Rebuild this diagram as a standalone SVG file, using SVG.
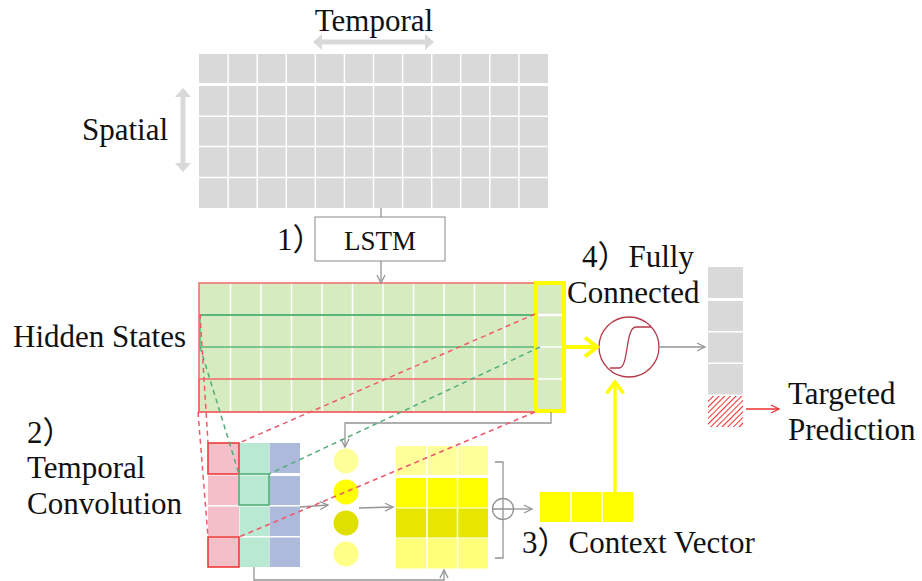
<svg xmlns="http://www.w3.org/2000/svg" width="922" height="581" viewBox="0 0 922 581">
<defs>
<style>
.t{font-family:"Liberation Serif","Noto Sans CJK SC",serif;font-size:31px;fill:#111}
.wl{stroke:#fff;stroke-width:1.5;fill:none}
.gl{stroke:#949494;stroke-width:1.3;fill:none}
.rd{stroke:#ef5a6a;stroke-width:1.5;stroke-dasharray:5 4;fill:none}
.gd{stroke:#4fae7a;stroke-width:1.5;stroke-dasharray:5 4;fill:none}
</style>
<marker id="ag" markerUnits="userSpaceOnUse" markerWidth="12" markerHeight="12" refX="9" refY="5" orient="auto"><path d="M1,1 L9,5 L1,9" fill="none" stroke="#949494" stroke-width="1.3"/></marker>
<marker id="ar" markerUnits="userSpaceOnUse" markerWidth="12" markerHeight="12" refX="9" refY="5" orient="auto"><path d="M1,1 L9,5 L1,9" fill="none" stroke="#f03030" stroke-width="1.3"/></marker>
<pattern id="hatch" patternUnits="userSpaceOnUse" width="4" height="4" patternTransform="rotate(45)"><rect width="4" height="4" fill="#fff"/><line x1="0" y1="0" x2="0" y2="4" stroke="#f03030" stroke-width="2"/></pattern>
</defs>

<g id="input-grid">
<rect x="199" y="54" width="349" height="154" fill="#d9d9d9"/>
<path class="wl" d="M228.1,54V208M257.2,54V208M286.3,54V208M315.3,54V208M344.4,54V208M373.5,54V208M402.6,54V208M431.7,54V208M460.7,54V208M489.8,54V208M518.9,54V208M199,116.2H548M199,146.6H548M199,177.5H548"/>
<line x1="199" y1="84.5" x2="548" y2="84.5" stroke="#fff" stroke-width="3"/>
</g>

<g id="temporal-label">
<text class="t" x="374" y="31" text-anchor="middle">Temporal</text>
<path d="M313,42 L322,34 L322,39.5 L425,39.5 L425,34 L434,42 L425,50 L425,44.5 L322,44.5 L322,50 Z" fill="#d9d9d9"/>
</g>

<g id="spatial-label">
<text class="t" x="82" y="140">Spatial</text>
<path d="M183,88 L191,97 L185.5,97 L185.5,163 L191,163 L183,172 L175,163 L180.5,163 L180.5,97 L175,97 Z" fill="#d9d9d9"/>
</g>

<g id="lstm">
<rect x="315" y="217" width="130" height="44" fill="#fff" stroke="#8a8a8a" stroke-width="1"/>
<text class="t" x="380" y="250" text-anchor="middle" style="font-size:27px">LSTM</text>
<text class="t" x="277" y="250">1）</text>
</g>

<g id="hidden-states">
<rect x="199" y="283" width="367" height="129" fill="#d7ebc1"/>
<path class="wl" d="M230.5,283V412M261,283V412M291.5,283V412M322,283V412M352.5,283V412M383,283V412M413.5,283V412M444,283V412M474.5,283V412M505,283V412M535,347H566M535,379H566"/>
<line x1="535" y1="315" x2="566" y2="315" stroke="#fff" stroke-width="2.5"/>
<rect x="199" y="283" width="336" height="129" fill="none" stroke="#f26a6a" stroke-width="1.5"/>
<rect x="199" y="379" width="336" height="33" fill="none" stroke="#f26a6a" stroke-width="1.5"/>
<path d="M200,315V347" stroke="#5cb67c" stroke-width="1.5" fill="none"/>
<line x1="200" y1="315" x2="535" y2="315" stroke="#5cb67c" stroke-width="2.2"/>
<line x1="200" y1="347" x2="535" y2="347" stroke="#5cb67c" stroke-width="1.3"/>
<rect x="536" y="283" width="28" height="128" fill="none" stroke="#ffff00" stroke-width="4"/>
<text class="t" x="13" y="347">Hidden States</text>
</g>

<g id="temporal-convolution">
<rect x="208" y="443" width="31" height="31" fill="#f5bfc9"/>
<rect x="208" y="475.5" width="31" height="29.5" fill="#f5bfc9"/>
<rect x="208" y="506.5" width="31" height="29.5" fill="#f5bfc9"/>
<rect x="208" y="537.5" width="31" height="29.5" fill="#f5bfc9"/>
<rect x="239.5" y="443" width="29.5" height="31" fill="#b9e8d3"/>
<rect x="239.5" y="475.5" width="29.5" height="29.5" fill="#b9e8d3"/>
<rect x="239.5" y="506.5" width="29.5" height="29.5" fill="#b9e8d3"/>
<rect x="239.5" y="537.5" width="29.5" height="29.5" fill="#b9e8d3"/>
<rect x="269.5" y="443" width="30.5" height="30" fill="#aebadc"/>
<rect x="269.5" y="476" width="30.5" height="29" fill="#aebadc"/>
<rect x="269.5" y="506.5" width="30.5" height="29.5" fill="#aebadc"/>
<rect x="269.5" y="537.5" width="30.5" height="29.5" fill="#aebadc"/>
<rect x="208" y="443" width="31" height="31" fill="none" stroke="#f03a3a" stroke-width="1.6"/>
<rect x="208" y="537" width="31" height="30" fill="none" stroke="#f03a3a" stroke-width="1.6"/>
<rect x="239" y="474" width="30" height="31" fill="none" stroke="#4fae7a" stroke-width="1.6"/>
<text class="t" x="27" y="443">2）</text>
<text class="t" x="27" y="478">Temporal</text>
<text class="t" x="27" y="514">Convolution</text>
</g>

<g id="attention-weights">
<circle cx="346" cy="461" r="12.5" fill="#ffff99"/>
<circle cx="346" cy="492" r="12.5" fill="#ffff00"/>
<circle cx="346" cy="523" r="12.5" fill="#e0e000"/>
<circle cx="346" cy="554" r="12.5" fill="#ffff88"/>
</g>

<g id="weighted-states">
<rect x="396" y="446" width="92" height="29" fill="#ffff99"/>
<rect x="396" y="478" width="92" height="29.5" fill="#ffff00"/>
<rect x="396" y="508.5" width="92" height="29" fill="#e6e600"/>
<rect x="396" y="538.5" width="92" height="30" fill="#ffff7a"/>
<path class="wl" d="M427,446V569M457.5,446V569"/>
<path d="M495,462H503V558H495" class="gl"/>
<circle cx="503" cy="509" r="10.5" fill="#fff" stroke="#949494" stroke-width="1.3"/>
<path d="M492.5,509H513.5M503,498.5V519.5" class="gl"/>
</g>

<g id="context-vector">
<rect x="540" y="492" width="93" height="30" fill="#ffff00"/>
<path class="wl" d="M571,492V522M602,492V522"/>
<text class="t" x="522" y="553">3）Context Vector</text>
</g>

<g id="fully-connected">
<circle cx="629" cy="347" r="30" fill="#fff" stroke="#b5394a" stroke-width="1.3"/>
<path d="M610,368 H619 C629,368 625,327 636,327 H651" fill="none" stroke="#b5394a" stroke-width="1.3"/>
<text class="t" x="582" y="267">4）Fully</text>
<text class="t" x="567" y="303">Connected</text>
</g>

<g id="output">
<rect x="708" y="267" width="35" height="31" fill="#d9d9d9"/>
<rect x="708" y="301" width="35" height="30" fill="#d9d9d9"/>
<rect x="708" y="332.5" width="35" height="30" fill="#d9d9d9"/>
<rect x="708" y="364" width="35" height="30.5" fill="#d9d9d9"/>
<rect x="708" y="396" width="35" height="31" fill="url(#hatch)"/>
<text class="t" x="788" y="404">Targeted</text>
<text class="t" x="788" y="440">Prediction</text>
</g>

<g id="connectors">
<line x1="381" y1="208" x2="381" y2="217" class="gl"/>
<line x1="381" y1="261" x2="381" y2="283" class="gl" marker-end="url(#ag)"/>
<path d="M551,412V423H345V447" class="gl" marker-end="url(#ag)"/>
<path d="M254,567V580H444V570" class="gl" marker-end="url(#ag)"/>
<line x1="300" y1="507" x2="328" y2="505" class="gl" marker-end="url(#ag)"/>
<line x1="359" y1="508" x2="393" y2="507" class="gl" marker-end="url(#ag)"/>
<line x1="514" y1="509" x2="532" y2="509" class="gl" marker-end="url(#ag)"/>
<line x1="659" y1="347" x2="705" y2="347" class="gl" marker-end="url(#ag)"/>
<line x1="746" y1="409" x2="779" y2="409" stroke="#f03030" stroke-width="1.3" marker-end="url(#ar)"/>
<line class="rd" x1="535" y1="314" x2="239" y2="443"/>
<line class="rd" x1="535" y1="412" x2="239" y2="537"/>
<line class="rd" x1="200" y1="314" x2="208" y2="443"/>
<line class="rd" x1="198" y1="412" x2="208" y2="537"/>
<line class="gd" x1="540" y1="347" x2="269" y2="474"/>
<line class="gd" x1="200" y1="347" x2="239" y2="474"/>
<line x1="566" y1="347" x2="596" y2="347" stroke="#ffff00" stroke-width="4"/>
<polyline points="585,337.5 597,347 585,356.5" fill="none" stroke="#ffff00" stroke-width="4"/>
<line x1="615" y1="492" x2="615" y2="383" stroke="#ffff00" stroke-width="3.3"/>
<polyline points="606.5,393.5 615,382 623.5,393.5" fill="none" stroke="#ffff00" stroke-width="3.5"/>
</g>
</svg>
